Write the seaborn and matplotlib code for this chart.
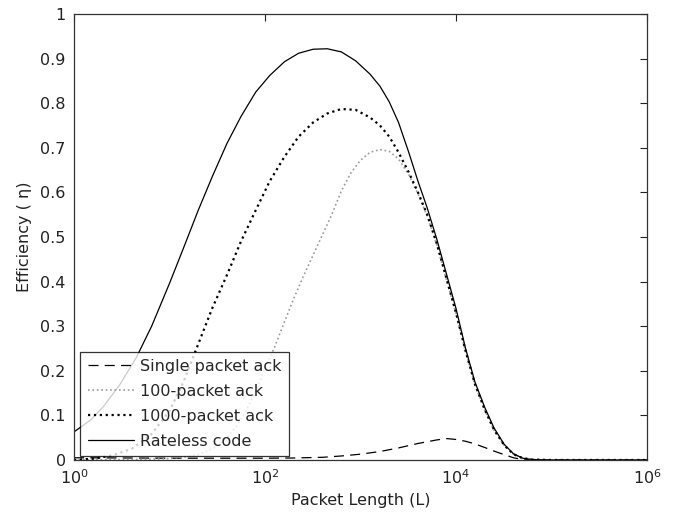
import numpy as np
import pandas as pd
import matplotlib
matplotlib.use("Agg")
import matplotlib.pyplot as plt
import seaborn as sns

# Values (packet length L, efficiency eta)
L_single = [1, 10, 100, 200, 400, 630, 1000, 1600, 2500, 4000, 6300, 8000, 10000, 12600, 15800,
            20000, 25000, 32000, 40000, 50000, 63000, 1e6]
eta_single = [0.005, 0.004, 0.004, 0.0045, 0.006, 0.009, 0.013, 0.019, 0.027, 0.037, 0.045, 0.048,
              0.046, 0.042, 0.036, 0.028, 0.02, 0.012, 0.005, 0.001, 0.0, 0.0]

L_100 = [1, 4, 10, 16, 20, 25, 32, 40, 50, 63, 80, 100, 126, 160, 200, 250, 320, 400, 500, 630,
         800, 1000, 1260, 1600, 2000, 2500, 3200, 4000, 5000, 6300, 8000, 10000, 12600, 15800,
         20000, 25000, 32000, 40000, 50000, 63000, 1e5, 1e6]
eta_100 = [0.0, 0.001, 0.003, 0.008, 0.012, 0.02, 0.032, 0.05, 0.075, 0.11, 0.155, 0.205, 0.253,
           0.31, 0.362, 0.41, 0.46, 0.505, 0.55, 0.603, 0.645, 0.672, 0.69, 0.696, 0.692, 0.675,
           0.64, 0.597, 0.547, 0.482, 0.402, 0.328, 0.243, 0.168, 0.112, 0.067, 0.033, 0.013,
           0.004, 0.001, 0.0, 0.0]

L_1000 = [1, 1.6, 2.5, 4, 6.3, 10, 14, 20, 28, 40, 56, 80, 112, 160, 225, 320, 450, 630, 890,
          1260, 1600, 2000, 2500, 3200, 4000, 5000, 6300, 8000, 10000, 12600, 15800, 20000,
          25000, 32000, 40000, 50000, 63000, 1e5, 1e6]
eta_1000 = [0.0, 0.003, 0.01, 0.025, 0.055, 0.11, 0.175, 0.26, 0.34, 0.415, 0.49, 0.56, 0.625,
            0.68, 0.725, 0.757, 0.777, 0.787, 0.785, 0.768, 0.75, 0.725, 0.69, 0.645, 0.60, 0.55,
            0.485, 0.405, 0.33, 0.245, 0.17, 0.113, 0.068, 0.033, 0.013, 0.004, 0.001, 0.0, 0.0]

L_rateless = [1, 1.5, 2, 3, 4.5, 6.5, 10, 14, 20, 28, 40, 56, 80, 112, 160, 225, 320, 450, 630,
              890, 1260, 1600, 2000, 2500, 3200, 4000, 5000, 6300, 8000, 10000, 12600, 15800,
              20000, 25000, 32000, 40000, 50000, 63000, 1e5, 1e6]
eta_rateless = [0.063, 0.09, 0.118, 0.168, 0.23, 0.30, 0.396, 0.475, 0.56, 0.635, 0.71, 0.77,
                0.825, 0.862, 0.893, 0.912, 0.921, 0.922, 0.915, 0.895, 0.865, 0.838, 0.803,
                0.757, 0.69, 0.625, 0.565, 0.495, 0.415, 0.34, 0.25, 0.175, 0.118, 0.072, 0.035,
                0.014, 0.004, 0.001, 0.0, 0.0]

sns.set_theme(style="white")
plt.rcParams["font.family"] = ["DejaVu Sans"]

fig, ax = plt.subplots(figsize=(6.81, 5.18), dpi=100)
fig.subplots_adjust(left=0.1087, right=0.950, top=0.973, bottom=0.112)

sns.lineplot(x=L_single, y=eta_single, ax=ax, color="black", lw=0.9, label="Single packet ack")
ax.lines[-1].set_dashes([8, 5])
sns.lineplot(x=L_100, y=eta_100, ax=ax, color="#9a9a9a", lw=1.2, label="100-packet ack")
ax.lines[-1].set_linestyle(":")
sns.lineplot(x=L_1000, y=eta_1000, ax=ax, color="black", lw=1.6, label="1000-packet ack")
ax.lines[-1].set_linestyle(":")
sns.lineplot(x=L_rateless, y=eta_rateless, ax=ax, color="black", lw=0.9, label="Rateless code")

ax.set_xscale("log")
ax.set_xlim(1, 1e6)
ax.set_ylim(0, 1)
ax.set_xticks([1, 1e2, 1e4, 1e6])
ax.xaxis.set_minor_locator(matplotlib.ticker.NullLocator())
ax.set_yticks(np.arange(0, 1.01, 0.1))
ax.set_yticklabels(["0", "0.1", "0.2", "0.3", "0.4", "0.5", "0.6", "0.7", "0.8", "0.9", "1"])

for s in ax.spines.values():
    s.set_color("#333333")
    s.set_linewidth(0.9)
ax.tick_params(direction="in", length=5, width=0.8, top=True, right=True,
               labelsize=11.5, colors="#222222", pad=6)

ax.set_xlabel("Packet Length (L)", fontsize=11.5, color="#222222", labelpad=4)
ax.set_ylabel("Efficiency ( η)", fontsize=11.5, color="#222222", labelpad=6)

leg = ax.legend(loc="lower left", bbox_to_anchor=(0.011, 0.009), borderaxespad=0,
                fontsize=11.5, frameon=True, fancybox=False, handlelength=2.9,
                handletextpad=0.4, labelspacing=0.62, borderpad=0.45)
leg.get_frame().set_edgecolor("black")
leg.get_frame().set_linewidth(0.9)

fig.savefig("out.png", dpi=100)
